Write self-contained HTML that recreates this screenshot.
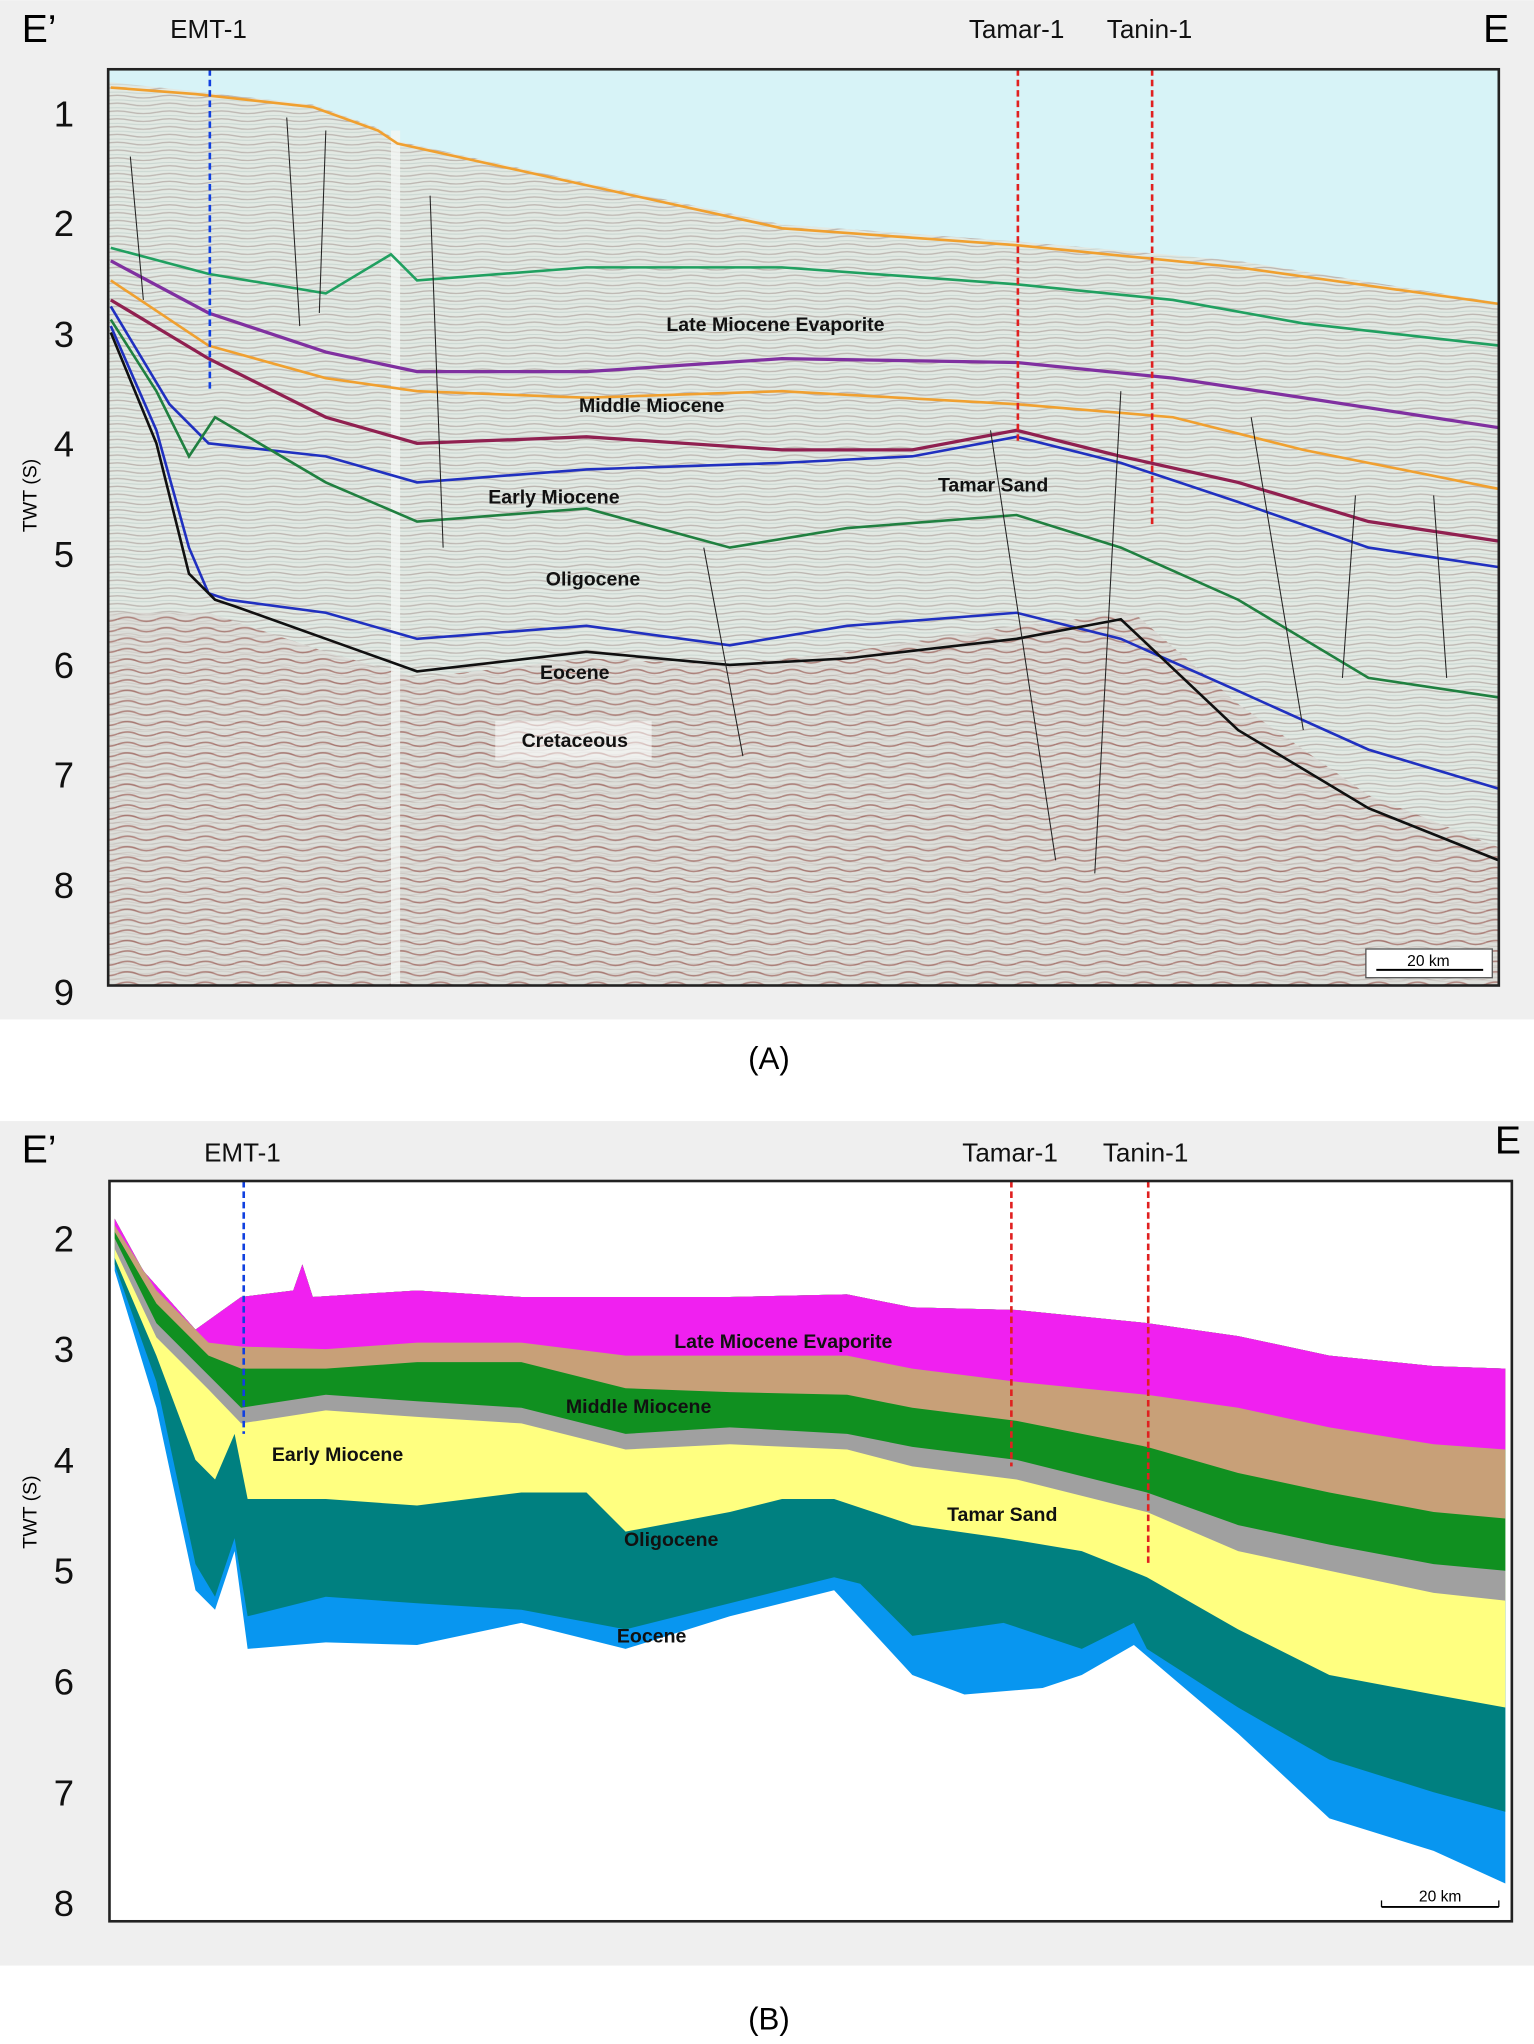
<!DOCTYPE html>
<html><head><meta charset="utf-8"><style>
html,body{margin:0;padding:0;background:#fff}
svg{display:block}
text{font-family:"Liberation Sans",Arial,sans-serif}
</style></head><body>
<svg width="1534" height="2044" viewBox="0 0 1177 1568" xmlns="http://www.w3.org/2000/svg">
<defs>
<pattern id="seis" width="40" height="6" patternUnits="userSpaceOnUse">
<rect width="40" height="6" fill="#e2e9e3"/>
<path d="M0 2 Q10 0 20 2 T40 2" stroke="#bdb7b2" stroke-width="1" fill="none"/>
<path d="M0 5 Q10 4 20 5 T40 5" stroke="#cbd6d1" stroke-width="0.8" fill="none"/>
</pattern>
<pattern id="deep" width="30" height="8" patternUnits="userSpaceOnUse">
<rect width="30" height="8" fill="#dcdad6"/>
<path d="M0 3 Q8 0 15 3 T30 3" stroke="#9b5c55" stroke-width="1.2" fill="none"/>
<path d="M0 7 Q8 5 15 7 T30 7" stroke="#c3b8b3" stroke-width="0.8" fill="none"/>
</pattern>
</defs>
<!-- Panel A -->
<rect x="0" y="0" width="1177" height="782" fill="#efefef"/>
<rect x="83" y="53" width="1067" height="703" fill="url(#seis)"/>
<polygon points="83,53 1150,53 1150,232 950,200 780,185 600,172 450,140 305,108 290,98 240,80 150,70 85,63 83,63" fill="#d7f3f7"/>
<polygon points="160,470 250,500 320,520 450,505 560,510 650,500 780,480 870,470 950,540 1050,610 1150,650 1150,756 83,756 83,470" fill="url(#deep)" opacity="0.7"/>
<rect x="300" y="100" width="7" height="656" fill="#f4f6f4" opacity="0.8"/>
<g fill="none" stroke-width="2">
<polyline stroke="#f0a030" points="85,67 150,72 240,82 290,100 305,110 450,142 600,175 780,188 950,205 1150,233"/>
<polyline stroke="#20a060" points="85,190 160,210 250,225 300,195 320,215 450,205 600,205 780,218 900,230 1000,248 1150,265"/>
<polyline stroke="#8030a0" stroke-width="2.5" points="85,200 160,240 250,270 320,285 450,285 600,275 780,278 900,290 1000,305 1150,328"/>
<polyline stroke="#f0a030" points="85,215 160,265 250,290 320,300 450,305 600,300 780,310 900,320 1000,345 1150,375"/>
<polyline stroke="#902050" stroke-width="2.5" points="85,230 160,275 250,320 320,340 450,335 600,345 700,345 780,330 860,350 950,370 1050,400 1150,415"/>
<polyline stroke="#2030c0" points="85,235 130,310 160,340 250,350 320,370 450,360 600,355 700,350 780,335 860,355 950,385 1050,420 1150,435"/>
<polyline stroke="#208040" points="85,245 120,300 145,350 165,320 250,370 320,400 450,390 560,420 650,405 780,395 860,420 950,460 1050,520 1150,535"/>
<polyline stroke="#2030c0" points="85,250 120,330 145,420 160,455 175,460 250,470 320,490 450,480 560,495 650,480 780,470 860,490 950,530 1050,575 1150,605"/>
<polyline stroke="#101010" points="85,255 120,340 145,440 165,460 180,465 250,490 320,515 450,500 560,510 650,505 780,490 860,475 950,560 1050,620 1150,660"/>
</g>
<g stroke="#222" stroke-width="0.8">
<line x1="100" y1="120" x2="110" y2="230"/><line x1="220" y1="90" x2="230" y2="250"/><line x1="250" y1="100" x2="245" y2="240"/><line x1="330" y1="150" x2="340" y2="420"/><line x1="540" y1="420" x2="570" y2="580"/><line x1="760" y1="330" x2="810" y2="660"/><line x1="860" y1="300" x2="840" y2="670"/><line x1="960" y1="320" x2="1000" y2="560"/><line x1="1040" y1="380" x2="1030" y2="520"/><line x1="1100" y1="380" x2="1110" y2="520"/>
</g>
<line x1="161" y1="53" x2="161" y2="300" stroke="#1040e0" stroke-width="2" stroke-dasharray="5,3"/>
<line x1="781" y1="53" x2="781" y2="340" stroke="#e02020" stroke-width="2" stroke-dasharray="5,3"/>
<line x1="884" y1="53" x2="884" y2="405" stroke="#e02020" stroke-width="2" stroke-dasharray="5,3"/>
<rect x="83" y="53" width="1067" height="703" fill="none" stroke="#222" stroke-width="2"/>
<g font-size="15" font-weight="bold" fill="#111">
<text x="595" y="254" text-anchor="middle">Late Miocene Evaporite</text>
<text x="500" y="316" text-anchor="middle">Middle Miocene</text>
<text x="425" y="386" text-anchor="middle">Early Miocene</text>
<text x="762" y="377" text-anchor="middle">Tamar Sand</text>
<text x="455" y="449" text-anchor="middle">Oligocene</text>
<text x="441" y="521" text-anchor="middle">Eocene</text>
<rect x="380" y="553" width="120" height="30" fill="#fff" opacity="0.55"/>
<text x="441" y="573" text-anchor="middle">Cretaceous</text>
</g>
<rect x="1048" y="728" width="97" height="22" fill="#fff" stroke="#555"/>
<line x1="1056" y1="744" x2="1138" y2="744" stroke="#000" stroke-width="1.5"/>
<text x="1096" y="741" font-size="12" text-anchor="middle">20 km</text>
<g font-size="28" fill="#111" text-anchor="middle">
<text x="49" y="97">1</text><text x="49" y="181">2</text><text x="49" y="266">3</text><text x="49" y="350">4</text><text x="49" y="435">5</text><text x="49" y="520">6</text><text x="49" y="604">7</text><text x="49" y="689">8</text><text x="49" y="771">9</text>
</g>
<text x="30" y="32" font-size="30" text-anchor="middle">E’</text>
<text x="1148" y="32" font-size="30" text-anchor="middle">E</text>
<g font-size="20" fill="#111" text-anchor="middle">
<text x="160" y="29">EMT-1</text><text x="780" y="29">Tamar-1</text><text x="882" y="29">Tanin-1</text>
</g>
<text x="28" y="380" font-size="15" transform="rotate(-90 28 380)" text-anchor="middle">TWT (S)</text>
<text x="590" y="820" font-size="24" text-anchor="middle">(A)</text>

<!-- Panel B -->
<rect x="0" y="860" width="1177" height="648" fill="#efefef"/>
<rect x="84" y="906" width="1076" height="568" fill="#fff"/>
<polygon fill="#0896f0" points="88,935 110,975 150,1020 185,995 225,990 232,970 240,995 320,990 400,995 480,995 560,995 650,993 700,1003 780,1005 880,1015 950,1025 1020,1040 1100,1048 1155,1050 1155,1445 1100,1420 1020,1395 950,1330 870,1262 830,1285 800,1295 740,1300 700,1285 640,1220 560,1240 480,1265 400,1245 320,1262 250,1260 190,1265 180,1190 165,1235 150,1220 120,1080 88,975"/>
<polygon fill="#008080" points="88,935 110,975 150,1020 185,995 225,990 232,970 240,995 320,990 400,995 480,995 560,995 650,993 700,1003 780,1005 880,1015 950,1025 1020,1040 1100,1048 1155,1050 1155,1390 1100,1375 1020,1350 950,1310 880,1265 870,1245 830,1265 770,1245 700,1255 660,1215 640,1210 560,1230 480,1250 400,1235 320,1230 250,1225 190,1240 180,1180 165,1225 150,1200 120,1060 88,970"/>
<polygon fill="#ffff80" points="88,935 110,975 150,1020 185,995 225,990 232,970 240,995 320,990 400,995 480,995 560,995 650,993 700,1003 780,1005 880,1015 950,1025 1020,1040 1100,1048 1155,1050 1155,1310 1100,1300 1020,1285 950,1250 880,1210 830,1190 770,1180 700,1170 640,1150 600,1150 560,1160 480,1175 450,1145 400,1145 320,1155 250,1150 190,1150 180,1100 165,1135 150,1120 120,1040 88,965"/>
<polygon fill="#a0a0a0" points="88,935 110,975 150,1020 185,995 225,990 232,970 240,995 320,990 400,995 480,995 560,995 650,993 700,1003 780,1005 880,1015 950,1025 1020,1040 1100,1048 1155,1050 1155,1228 1100,1222 1020,1205 950,1190 880,1160 780,1135 700,1125 650,1112 560,1108 480,1112 400,1092 320,1087 250,1082 185,1092 160,1066 120,1026 88,958"/>
<polygon fill="#109020" points="88,935 110,975 150,1020 185,995 225,990 232,970 240,995 320,990 400,995 480,995 560,995 650,993 700,1003 780,1005 880,1015 950,1025 1020,1040 1100,1048 1155,1050 1155,1205 1100,1200 1020,1185 950,1170 880,1145 780,1120 700,1110 650,1100 560,1095 480,1100 400,1080 320,1075 250,1070 185,1080 160,1055 120,1015 88,950"/>
<polygon fill="#c8a078" points="88,935 110,975 150,1020 185,995 225,990 232,970 240,995 320,990 400,995 480,995 560,995 650,993 700,1003 780,1005 880,1015 950,1025 1020,1040 1100,1048 1155,1050 1155,1165 1100,1160 1020,1145 950,1130 880,1110 780,1090 700,1080 650,1070 560,1068 480,1065 400,1045 320,1045 250,1050 185,1050 160,1040 120,1000 88,945"/>
<polygon fill="#f020f0" points="88,935 110,975 150,1020 185,995 225,990 232,970 240,995 320,990 400,995 480,995 560,995 650,993 700,1003 780,1005 880,1015 950,1025 1020,1040 1100,1048 1155,1050 1155,1112 1100,1108 1020,1095 950,1080 880,1070 780,1060 700,1050 650,1040 560,1040 480,1040 400,1030 320,1030 250,1035 185,1033 160,1030 120,990 88,940"/>
<line x1="187" y1="906" x2="187" y2="1100" stroke="#1040e0" stroke-width="2" stroke-dasharray="5,3"/>
<line x1="776" y1="906" x2="776" y2="1125" stroke="#e02020" stroke-width="2" stroke-dasharray="5,3"/>
<line x1="881" y1="906" x2="881" y2="1200" stroke="#e02020" stroke-width="2" stroke-dasharray="5,3"/>
<rect x="84" y="906" width="1076" height="568" fill="none" stroke="#222" stroke-width="2"/>
<g font-size="15" font-weight="bold" fill="#111">
<text x="601" y="1034" text-anchor="middle">Late Miocene Evaporite</text>
<text x="490" y="1084" text-anchor="middle">Middle Miocene</text>
<text x="259" y="1121" text-anchor="middle">Early Miocene</text>
<text x="769" y="1167" text-anchor="middle">Tamar Sand</text>
<text x="515" y="1186" text-anchor="middle">Oligocene</text>
<text x="500" y="1260" text-anchor="middle">Eocene</text>
</g>
<line x1="1060" y1="1463" x2="1150" y2="1463" stroke="#000" stroke-width="1.5"/>
<line x1="1060" y1="1458" x2="1060" y2="1463" stroke="#000"/><line x1="1150" y1="1458" x2="1150" y2="1463" stroke="#000"/>
<text x="1105" y="1459" font-size="12" text-anchor="middle">20 km</text>
<g font-size="28" fill="#111" text-anchor="middle">
<text x="49" y="960">2</text><text x="49" y="1045">3</text><text x="49" y="1130">4</text><text x="49" y="1215">5</text><text x="49" y="1300">6</text><text x="49" y="1385">7</text><text x="49" y="1470">8</text>
</g>
<text x="30" y="892" font-size="30" text-anchor="middle">E’</text>
<text x="1157" y="885" font-size="30" text-anchor="middle">E</text>
<g font-size="20" fill="#111" text-anchor="middle">
<text x="186" y="891">EMT-1</text><text x="775" y="891">Tamar-1</text><text x="879" y="891">Tanin-1</text>
</g>
<text x="28" y="1160" font-size="15" transform="rotate(-90 28 1160)" text-anchor="middle">TWT (S)</text>
<text x="590" y="1557" font-size="24" text-anchor="middle">(B)</text>
</svg>
</body></html>
